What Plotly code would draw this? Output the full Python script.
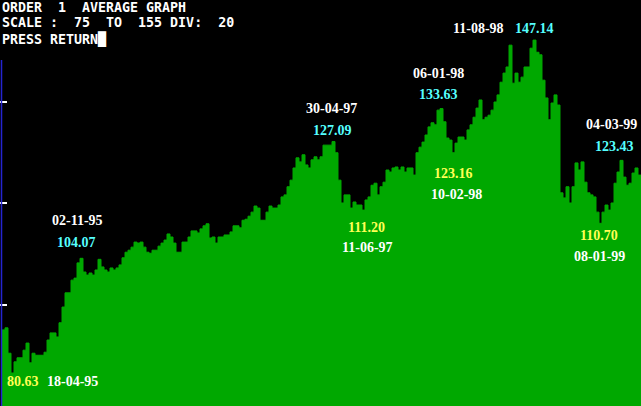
import plotly.graph_objects as go

# Weekly average index values (left to right)
values = [
    90.0, 90.4, 85.4, 81.5, 83.7, 84.5, 84.5, 86.0, 87.4, 83.5,
    85.4, 85.0, 85.0, 85.0, 85.6, 88.0, 89.4, 89.4, 88.6, 91.4,
    94.5, 97.3, 97.3, 99.8, 100.2, 103.2, 104.1, 101.4, 100.8, 101.2,
    100.8, 101.8, 103.9, 102.4, 101.8, 101.4, 102.2, 101.8, 102.2, 102.8,
    104.2, 105.3, 105.7, 106.3, 107.3, 107.1, 107.3, 106.3, 105.3, 105.1,
    105.7, 105.7, 106.5, 107.1, 107.7, 108.9, 108.3, 107.1, 105.3, 105.3,
    107.3, 107.3, 108.3, 109.5, 109.5, 109.1, 109.9, 110.5, 110.9, 108.1,
    108.3, 107.1, 108.3, 108.3, 108.7, 108.7, 109.3, 110.5, 110.5, 110.1,
    111.6, 111.8, 112.4, 113.2, 114.4, 114.0, 111.6, 111.6, 113.2, 114.4,
    114.0, 114.0, 114.6, 116.2, 116.6, 118.2, 119.5, 121.9, 123.9, 123.1,
    124.5, 122.5, 121.9, 123.5, 124.1, 123.5, 124.1, 126.4, 126.4, 126.4,
    127.1, 124.9, 119.5, 115.0, 116.6, 116.6, 114.0, 115.2, 114.6, 114.6,
    113.6, 115.6, 116.2, 118.5, 118.9, 116.6, 118.2, 119.1, 121.5, 121.1,
    121.9, 122.1, 121.5, 122.1, 121.1, 121.9, 121.9, 120.5, 124.9, 126.0,
    127.0, 128.4, 130.0, 130.8, 130.4, 133.3, 133.6, 131.0, 127.8, 127.4,
    124.9, 126.8, 128.0, 128.0, 127.4, 129.4, 130.4, 131.9, 133.7, 135.3,
    131.4, 131.9, 132.3, 133.3, 134.9, 136.3, 138.8, 140.6, 141.8, 146.1,
    138.6, 140.6, 138.8, 139.8, 141.8, 141.8, 145.5, 147.1, 144.7, 144.2,
    139.2, 135.7, 131.4, 134.7, 136.3, 134.3, 117.0, 116.0, 118.2, 115.0,
    118.2, 122.9, 121.5, 123.1, 119.1, 117.0, 116.6, 116.2, 113.2, 111.0,
    113.2, 114.6, 113.6, 115.0, 118.9, 121.1, 123.4, 120.1, 118.5, 118.9,
    120.9, 121.9, 120.5,
]

scale_min, scale_max, scale_div = 75, 155, 20
tick_values = [95, 115, 135]

header_lines = [
    "ORDER  1  AVERAGE GRAPH",
    "SCALE :  75  TO  155 DIV:  20",
    "PRESS RETURN\u2588",
]

# (text, colour, x_px, y_px)
labels = [
    ("80.63", "#FFFF55", 22.5, 381),
    ("18-04-95", "#FFFFFF", 72.5, 381),
    ("02-11-95", "#FFFFFF", 77.5, 220.5),
    ("104.07", "#55FFFF", 76.5, 242.5),
    ("30-04-97", "#FFFFFF", 331, 108),
    ("127.09", "#55FFFF", 332, 130.5),
    ("111.20", "#FFFF55", 366.5, 227),
    ("11-06-97", "#FFFFFF", 367, 247.5),
    ("06-01-98", "#FFFFFF", 438.5, 73),
    ("133.63", "#55FFFF", 438, 94),
    ("123.16", "#FFFF55", 453, 173),
    ("10-02-98", "#FFFFFF", 456, 194),
    ("11-08-98", "#FFFFFF", 478.5, 28),
    ("147.14", "#55FFFF", 534, 28),
    ("04-03-99", "#FFFFFF", 611, 124),
    ("123.43", "#55FFFF", 614, 146),
    ("110.70", "#FFFF55", 599, 235.5),
    ("08-01-99", "#FFFFFF", 599, 256.5),
]

W, H = 641, 406
n = len(values)
xs = list(range(n)) + [n]
ys = values + [values[-1]]

fig = go.Figure()
fig.add_trace(go.Scatter(
    x=xs, y=ys, mode="lines", line=dict(shape="hv", color="#00A800", width=1),
    fill="tozeroy", fillcolor="#00A800", hoverinfo="skip",
))

annotations = []
for i, line in enumerate(header_lines):
    annotations.append(dict(
        text="<b>%s</b>" % line, xref="paper", yref="paper",
        x=0, y=1 - (7 + 16 * i) / H,
        xanchor="left", yanchor="middle", showarrow=False,
        font=dict(family="DejaVu Sans Mono", size=13.3, color="#FFFFFF"),
    ))
for text, color, px, py in labels:
    annotations.append(dict(
        text="<b>%s</b>" % text, xref="paper", yref="paper", x=px / W, y=1 - py / H,
        xanchor="center", yanchor="middle", showarrow=False,
        font=dict(family="Liberation Serif", size=14, color=color),
    ))

fig.update_layout(
    width=W, height=H, margin=dict(l=0, r=0, t=0, b=0),
    paper_bgcolor="#000000", plot_bgcolor="#000000",
    showlegend=False, annotations=annotations,
    xaxis=dict(range=[-2 / 3, (W - 2) / 3], visible=False, fixedrange=True),
    yaxis=dict(range=[scale_min, scale_max], showgrid=False, zeroline=False,
               showticklabels=False, tickvals=tick_values, ticks="inside",
               ticklen=7, tickwidth=2, tickcolor="#FFFFFF", showline=False),
    shapes=[dict(type="line", xref="paper", yref="paper",
                 x0=1.5 / W, x1=1.5 / W, y0=0, y1=1 - 60 / H,
                 line=dict(color="#2424D0", width=1.5), layer="above")],
)

fig.write_html(
    "out.html",
    config={"displayModeBar": False, "staticPlot": True},
    post_script="document.body.style.margin='0';document.body.style.padding='0';"
                "document.body.style.background='#000';",
)
